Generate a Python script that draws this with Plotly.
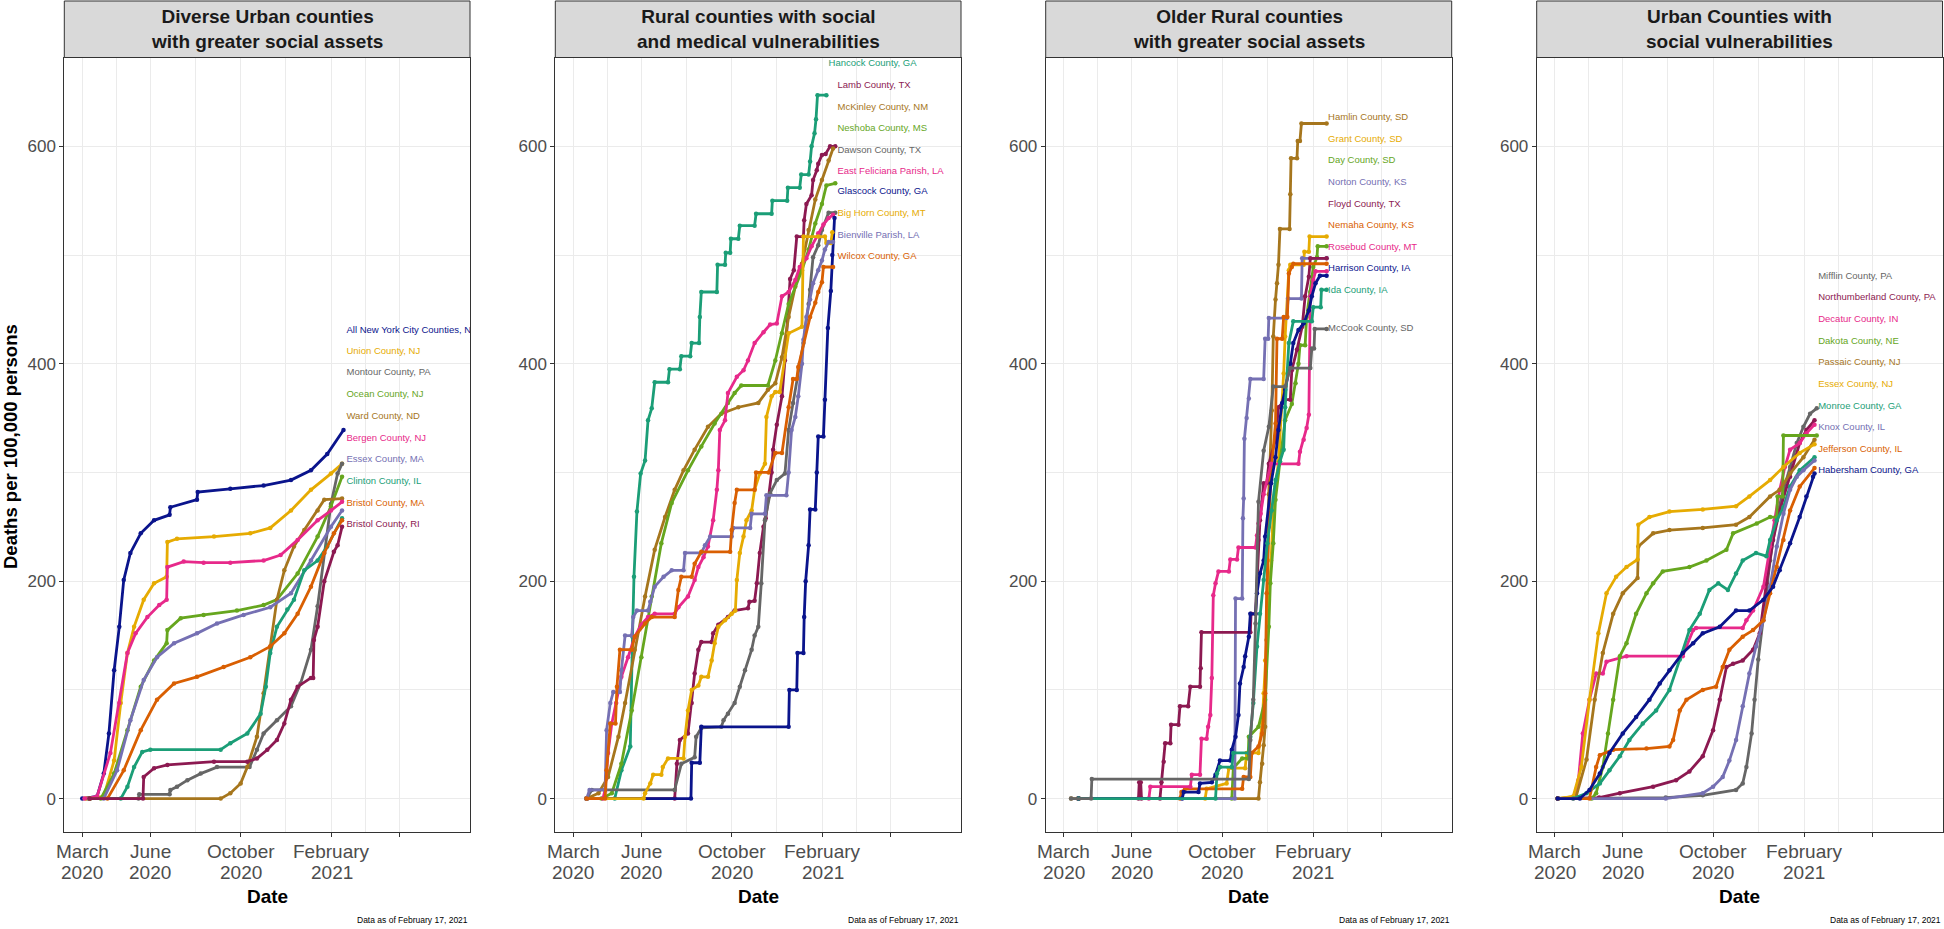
import pandas as pd
import plotly.graph_objects as go

START = pd.Timestamp("2020-03-01")

# ---------------- colours ----------------
NAVY = "#0A148C"
GOLD = "#E6AB02"
GREY = "#666666"
GREEN = "#66A61E"
BROWN = "#A6761D"
PINK = "#E7298A"
PURPLE = "#7570B3"
TEAL = "#1B9E77"
ORANGE = "#D95F02"
MAROON = "#8C1951"

# ---------------- panel titles ----------------
titles = [
    "Diverse Urban counties<br>with greater social assets",
    "Rural counties with social<br>and medical vulnerabilities",
    "Older Rural counties<br>with greater social assets",
    "Urban Counties with<br>social vulnerabilities",
]

# ---------------- x tick labels ----------------
tick_dates = ["2020-03-01", "2020-06-01", "2020-10-01", "2021-02-01", "2021-05-04"]
tick_month = ["March", "June", "October", "February", ""]
tick_year = ["2020", "2020", "2020", "2021", ""]
minor_dates = ["2020-04-16", "2020-08-01", "2020-12-01", "2021-03-19"]
y_ticks = [0, 200, 400, 600]
y_minor = [100, 300, 500]

# ================= Panel 1 data (days since 2020-03-01, deaths per 100k) =================
nyc_d = [0, 20, 29, 36, 43, 50, 56, 65, 79, 97, 118, 119, 155, 156, 200, 245, 282, 309, 331, 353]
nyc_v = [0, 2, 23, 60, 118, 158, 201, 226, 244, 256, 261, 268, 275, 282, 285, 288, 293, 302, 317, 339]
union_d = [5, 29, 43, 52, 61, 70, 83, 97, 114, 115, 128, 178, 227, 254, 282, 309, 336, 351]
union_v = [0, 2, 35, 88, 134, 158, 183, 198, 204, 236, 239, 241, 244, 249, 265, 284, 299, 308]
montour_d = [8, 76, 77, 118, 119, 128, 142, 160, 182, 226, 236, 245, 263, 282, 295, 309, 318, 327, 336, 345, 351]
montour_v = [0, 0, 4, 4, 8, 11, 17, 23, 29, 29, 45, 60, 72, 85, 106, 137, 177, 226, 271, 299, 308]
ocean_d = [10, 25, 43, 61, 79, 97, 114, 115, 133, 164, 209, 245, 263, 291, 318, 336, 351]
ocean_v = [0, 0, 23, 63, 103, 127, 143, 155, 166, 169, 173, 178, 183, 207, 241, 269, 296]
ward_d = [10, 187, 200, 214, 223, 236, 245, 254, 263, 273, 286, 300, 318, 327, 351]
ward_v = [0, 0, 5, 14, 29, 57, 97, 140, 183, 210, 232, 247, 265, 275, 276]
bergen_d = [3, 20, 38, 50, 61, 72, 88, 104, 114, 115, 137, 164, 200, 245, 268, 291, 318, 336, 351]
bergen_v = [0, 2, 42, 88, 134, 152, 167, 178, 183, 213, 218, 217, 217, 219, 224, 238, 256, 265, 273]
essexma_d = [10, 29, 47, 65, 83, 101, 124, 155, 182, 218, 254, 282, 309, 336, 351]
essexma_v = [0, 0, 26, 72, 109, 130, 143, 152, 161, 169, 176, 189, 219, 250, 265]
clinton_d = [10, 52, 61, 70, 81, 92, 187, 200, 223, 241, 248, 254, 263, 277, 286, 300, 318, 331, 351]
clinton_v = [0, 0, 11, 29, 43, 45, 45, 51, 60, 78, 103, 134, 158, 174, 183, 210, 219, 232, 258]
bristolma_d = [10, 34, 56, 79, 101, 124, 155, 191, 227, 254, 273, 291, 309, 327, 340, 351]
bristolma_v = [0, 0, 26, 63, 91, 106, 112, 121, 130, 140, 152, 170, 195, 226, 244, 256]
bristolri_d = [10, 82, 83, 97, 115, 178, 223, 236, 250, 263, 273, 282, 291, 309, 312, 313, 318, 327, 340, 345, 351]
bristolri_v = [0, 0, 20, 28, 31, 34, 34, 37, 45, 54, 69, 91, 103, 111, 111, 146, 158, 200, 227, 233, 250]

# ================= Panel 2 data =================
hancock_d = [18, 56, 65, 77, 80, 82, 86, 91, 97, 101, 106, 110, 128, 130, 144, 146, 158, 160, 170, 171, 173, 194, 195, 205, 206, 212, 213, 223, 225, 245, 247, 268, 269, 289, 290, 306, 308, 318, 320, 322, 326, 328, 330, 342]
hancock_v = [0, 0, 26, 48, 149, 204, 264, 299, 311, 348, 359, 383, 383, 395, 395, 407, 407, 419, 419, 443, 466, 466, 491, 491, 502, 502, 515, 515, 527, 527, 538, 538, 550, 550, 562, 562, 574, 574, 586, 600, 612, 625, 647, 647]
lamb_d = [18, 137, 140, 144, 155, 160, 164, 169, 173, 187, 189, 196, 209, 218, 236, 238, 245, 248, 252, 257, 260, 264, 268, 270, 275, 282, 286, 293, 298, 302, 311, 312, 315, 322, 324, 329, 331, 336, 341, 347, 354]
lamb_v = [0, 0, 32, 54, 60, 88, 115, 137, 144, 144, 152, 160, 167, 173, 175, 181, 182, 198, 226, 250, 258, 278, 300, 321, 344, 370, 403, 478, 486, 517, 517, 532, 547, 555, 569, 578, 584, 592, 593, 600, 600]
mckinley_d = [18, 34, 47, 61, 70, 83, 97, 110, 124, 137, 149, 164, 182, 200, 223, 250, 263, 273, 282, 291, 300, 309, 318, 327, 336, 345, 351]
mckinley_v = [0, 5, 20, 57, 88, 137, 186, 229, 259, 284, 302, 321, 342, 354, 360, 364, 376, 382, 406, 443, 471, 492, 523, 551, 569, 587, 598]
neshoba_d = [18, 38, 52, 65, 79, 92, 106, 119, 133, 155, 173, 191, 209, 218, 227, 263, 273, 282, 291, 309, 318, 327, 336, 342, 354]
neshoba_v = [0, 0, 5, 32, 81, 130, 186, 235, 272, 302, 324, 345, 364, 373, 380, 380, 403, 428, 455, 486, 505, 529, 547, 564, 566]
dawson_d = [18, 25, 137, 146, 164, 166, 173, 200, 203, 209, 218, 225, 232, 241, 245, 250, 254, 259, 266, 275, 286, 291, 297, 306, 311, 318, 320, 324, 331, 336, 345, 354]
dawson_v = [0, 8, 8, 32, 38, 57, 65, 66, 72, 78, 88, 103, 118, 137, 150, 158, 198, 256, 281, 293, 299, 339, 364, 400, 419, 455, 468, 498, 509, 523, 539, 539]
feliciana_d = [18, 40, 43, 47, 52, 58, 65, 74, 83, 92, 101, 110, 137, 142, 155, 164, 169, 176, 182, 189, 194, 196, 198, 205, 209, 221, 230, 236, 245, 257, 266, 275, 282, 291, 300, 306, 315, 322, 331, 338, 345, 351]
feliciana_v = [0, 0, 8, 42, 69, 88, 112, 130, 149, 160, 167, 170, 170, 176, 186, 201, 213, 222, 232, 256, 284, 302, 339, 348, 373, 388, 394, 403, 419, 429, 436, 437, 462, 466, 477, 489, 497, 508, 520, 528, 534, 537]
glascock_d = [18, 159, 160, 171, 173, 291, 292, 302, 303, 311, 312, 314, 318, 320, 327, 329, 331, 338, 340, 344, 348, 350, 353]
glascock_v = [0, 0, 33, 33, 66, 66, 100, 100, 134, 134, 167, 200, 233, 266, 266, 300, 333, 333, 367, 433, 467, 500, 534]
bighorn_d = [18, 95, 97, 104, 108, 119, 121, 128, 149, 151, 155, 160, 169, 173, 182, 187, 191, 196, 205, 214, 219, 221, 225, 230, 234, 241, 245, 252, 259, 261, 268, 273, 279, 291, 309, 311, 331, 340, 342, 348, 350]
bighorn_v = [0, 0, 5, 14, 22, 22, 29, 37, 37, 57, 81, 100, 104, 112, 112, 127, 143, 158, 164, 170, 173, 201, 226, 241, 256, 265, 284, 299, 308, 351, 370, 374, 374, 428, 434, 517, 517, 517, 511, 511, 521]
bienville_d = [18, 22, 43, 45, 50, 54, 63, 65, 70, 79, 81, 86, 101, 104, 110, 122, 133, 149, 151, 173, 178, 185, 214, 216, 239, 241, 259, 261, 288, 291, 295, 300, 304, 309, 311, 315, 320, 324, 331, 336, 340, 345, 351]
bienville_v = [0, 8, 8, 63, 88, 98, 98, 118, 150, 150, 167, 173, 173, 181, 195, 204, 210, 210, 226, 226, 233, 241, 241, 249, 249, 262, 262, 279, 279, 300, 339, 351, 370, 400, 422, 443, 459, 474, 486, 495, 505, 512, 512]
wilcox_d = [18, 43, 45, 50, 57, 59, 63, 79, 83, 97, 106, 137, 142, 146, 160, 164, 173, 212, 214, 218, 221, 245, 247, 264, 273, 282, 291, 297, 302, 304, 320, 327, 331, 336, 338, 351]
wilcox_v = [0, 0, 26, 69, 69, 103, 137, 137, 149, 161, 167, 167, 192, 204, 204, 216, 227, 227, 247, 272, 284, 284, 300, 300, 318, 318, 360, 386, 386, 397, 443, 456, 466, 475, 489, 489]

# ================= Panel 3 data =================
hamlin_d = [10, 263, 265, 268, 270, 272, 274, 277, 281, 283, 286, 288, 290, 292, 305, 306, 307, 315, 316, 319, 321, 355]
hamlin_v = [0, 0, 15, 32, 49, 66, 146, 280, 357, 425, 459, 474, 491, 524, 524, 556, 589, 589, 605, 605, 621, 621]
grant_d = [20, 191, 193, 220, 223, 245, 247, 263, 268, 270, 272, 277, 280, 283, 286, 290, 297, 299, 304, 306, 324, 325, 331, 332, 355]
grant_v = [0, 0, 9, 14, 28, 28, 42, 42, 69, 97, 127, 183, 219, 265, 287, 310, 391, 425, 486, 491, 491, 503, 503, 517, 517]
day_d = [20, 227, 229, 241, 249, 250, 263, 272, 277, 279, 283, 286, 292, 299, 308, 313, 317, 319, 326, 328, 333, 337, 342, 343, 355]
day_v = [0, 0, 28, 37, 37, 57, 66, 91, 158, 198, 235, 275, 310, 348, 363, 382, 400, 417, 417, 443, 466, 489, 498, 508, 508]
norton_d = [20, 231, 232, 241, 242, 243, 244, 247, 250, 252, 270, 272, 276, 277, 301, 303, 321, 322, 355]
norton_v = [0, 0, 184, 184, 258, 276, 331, 350, 368, 386, 386, 423, 423, 442, 442, 460, 460, 497, 497]
floyd_d = [20, 101, 102, 104, 105, 130, 132, 135, 137, 144, 145, 155, 157, 168, 171, 184, 185, 186, 252, 253, 259, 263, 265, 270, 274, 277, 286, 290, 299, 306, 308, 315, 322, 326, 331, 333, 355]
floyd_v = [0, 0, 15, 15, 0, 0, 15, 34, 51, 51, 68, 68, 85, 85, 103, 103, 120, 153, 153, 170, 170, 238, 256, 290, 290, 308, 330, 360, 367, 367, 394, 413, 434, 462, 480, 497, 497]
nemaha_d = [20, 157, 159, 164, 241, 243, 252, 254, 263, 268, 272, 274, 277, 280, 286, 288, 295, 297, 302, 304, 308, 310, 355]
nemaha_v = [0, 0, 6, 9, 9, 20, 20, 42, 48, 60, 97, 189, 250, 300, 345, 423, 423, 443, 443, 483, 489, 492, 492]
rosebud_d = [20, 115, 117, 171, 173, 184, 186, 193, 195, 198, 200, 202, 205, 209, 223, 225, 234, 236, 259, 261, 263, 266, 270, 280, 317, 319, 324, 328, 331, 333, 337, 340, 355]
rosebud_v = [0, 0, 11, 11, 22, 22, 55, 55, 66, 77, 111, 187, 198, 209, 209, 220, 220, 231, 231, 242, 253, 262, 280, 308, 308, 319, 330, 341, 353, 462, 477, 485, 485]
harrison_d = [20, 160, 162, 182, 184, 200, 205, 211, 225, 227, 232, 236, 238, 243, 245, 250, 252, 259, 261, 265, 270, 272, 280, 286, 290, 295, 299, 306, 310, 317, 324, 331, 335, 340, 346, 355]
harrison_v = [0, 0, 6, 6, 14, 15, 22, 35, 35, 45, 57, 77, 106, 121, 131, 149, 170, 170, 189, 207, 219, 241, 290, 314, 339, 364, 376, 400, 419, 431, 437, 449, 462, 474, 481, 481]
ida_d = [20, 205, 207, 211, 227, 229, 250, 252, 256, 261, 265, 270, 275, 281, 286, 292, 297, 299, 304, 310, 335, 337, 347, 348, 355]
ida_v = [0, 0, 23, 29, 29, 42, 42, 57, 88, 140, 170, 201, 235, 265, 293, 310, 321, 360, 419, 439, 439, 452, 452, 468, 468]
mccook_d = [10, 37, 38, 250, 252, 256, 259, 263, 270, 277, 283, 299, 306, 333, 335, 338, 339, 355]
mccook_v = [0, 0, 18, 18, 54, 91, 161, 273, 320, 342, 379, 379, 396, 396, 414, 414, 432, 432]

# ================= Panel 4 data =================
mifflin_d = [4, 150, 200, 245, 254, 259, 266, 270, 275, 282, 291, 300, 309, 318, 327, 336, 345, 354]
mifflin_v = [0, 1, 3, 8, 14, 29, 60, 91, 128, 167, 219, 259, 284, 305, 327, 342, 354, 359]
northum_d = [4, 60, 88, 133, 164, 182, 200, 214, 223, 232, 241, 254, 268, 277, 286, 295, 304, 318, 331, 340, 351]
northum_v = [0, 1, 5, 11, 17, 25, 39, 63, 91, 121, 124, 127, 137, 152, 198, 238, 265, 296, 327, 339, 348]
decatur_d = [4, 25, 32, 38, 47, 56, 65, 70, 97, 173, 178, 187, 191, 254, 259, 268, 282, 291, 297, 304, 311, 318, 331, 340, 351]
decatur_v = [0, 0, 17, 60, 91, 115, 115, 126, 131, 131, 140, 155, 157, 157, 164, 173, 195, 232, 256, 284, 305, 321, 327, 336, 344]
dakota_d = [4, 50, 56, 65, 72, 79, 88, 97, 110, 124, 133, 146, 182, 205, 232, 241, 273, 291, 300, 301, 308, 309, 354]
dakota_v = [0, 0, 5, 29, 60, 91, 131, 143, 170, 189, 198, 209, 213, 219, 229, 244, 253, 259, 259, 278, 278, 334, 334]
passaic_d = [4, 29, 43, 54, 65, 79, 92, 112, 113, 133, 155, 200, 245, 263, 291, 304, 318, 336, 351]
passaic_v = [0, 2, 36, 91, 134, 170, 189, 203, 232, 244, 247, 249, 252, 259, 278, 284, 299, 314, 330]
essexnj_d = [4, 25, 36, 47, 59, 70, 83, 97, 112, 113, 128, 155, 200, 245, 263, 291, 309, 331, 351]
essexnj_v = [0, 2, 29, 91, 152, 189, 204, 213, 220, 252, 259, 264, 266, 269, 278, 293, 305, 318, 326]
monroe_d = [4, 25, 43, 61, 74, 88, 101, 119, 137, 155, 169, 182, 196, 209, 221, 234, 245, 254, 272, 286, 291, 300, 309, 318, 331, 351]
monroe_v = [0, 0, 5, 14, 26, 39, 54, 69, 81, 100, 128, 155, 170, 192, 198, 192, 207, 219, 226, 223, 238, 256, 268, 287, 302, 314]
knox_d = [4, 150, 200, 214, 227, 236, 245, 254, 263, 272, 282, 291, 300, 309, 318, 327, 336, 351]
knox_v = [0, 0, 5, 11, 20, 35, 54, 85, 115, 140, 164, 195, 232, 262, 284, 296, 302, 311]
jefferson_d = [4, 47, 56, 61, 79, 124, 155, 160, 169, 178, 200, 218, 227, 236, 254, 268, 282, 291, 300, 309, 318, 331, 351]
jefferson_v = [0, 0, 29, 40, 45, 46, 48, 54, 81, 91, 100, 103, 121, 137, 149, 155, 164, 189, 213, 238, 265, 287, 304]
habersham_d = [4, 34, 47, 61, 74, 92, 110, 128, 142, 155, 173, 187, 200, 223, 245, 263, 282, 295, 304, 318, 331, 340, 349, 351]
habersham_v = [0, 0, 8, 23, 42, 60, 75, 91, 106, 118, 134, 143, 152, 158, 173, 173, 183, 195, 210, 235, 259, 278, 296, 299]

# ---------------- names / colours per panel ----------------
p1_names = ["All New York City Counties, NY", "Union County, NJ", "Montour County, PA", "Ocean County, NJ",
            "Ward County, ND", "Bergen County, NJ", "Essex County, MA", "Clinton County, IL",
            "Bristol County, MA", "Bristol County, RI"]
p1_colors = [NAVY, GOLD, GREY, GREEN, BROWN, PINK, PURPLE, TEAL, ORANGE, MAROON]
p1_series = [(nyc_d, nyc_v), (union_d, union_v), (montour_d, montour_v), (ocean_d, ocean_v),
             (ward_d, ward_v), (bergen_d, bergen_v), (essexma_d, essexma_v), (clinton_d, clinton_v),
             (bristolma_d, bristolma_v), (bristolri_d, bristolri_v)]
p1_label_y = [430.8, 411.2, 391.6, 371.4, 351.2, 331.0, 311.4, 291.9, 271.6, 252.0]
p1_label_d = [357] * 10

p2_names = ["Hancock County, GA", "Lamb County, TX", "McKinley County, NM", "Neshoba County, MS",
            "Dawson County, TX", "East Feliciana Parish, LA", "Glascock County, GA", "Big Horn County, MT",
            "Bienville Parish, LA", "Wilcox County, GA"]
p2_colors = [TEAL, MAROON, BROWN, GREEN, GREY, PINK, NAVY, GOLD, PURPLE, ORANGE]
p2_series = [(hancock_d, hancock_v), (lamb_d, lamb_v), (mckinley_d, mckinley_v), (neshoba_d, neshoba_v),
             (dawson_d, dawson_v), (feliciana_d, feliciana_v), (glascock_d, glascock_v), (bighorn_d, bighorn_v),
             (bienville_d, bienville_v), (wilcox_d, wilcox_v)]
p2_label_y = [676.2, 656.0, 635.9, 616.2, 596.1, 576.5, 558.0, 537.7, 517.6, 498.6]
p2_label_d = [345] + [357] * 9

p3_names = ["Hamlin County, SD", "Grant County, SD", "Day County, SD", "Norton County, KS",
            "Floyd County, TX", "Nemaha County, KS", "Rosebud County, MT", "Harrison County, IA",
            "Ida County, IA", "McCook County, SD"]
p3_colors = [BROWN, GOLD, GREEN, PURPLE, MAROON, ORANGE, PINK, NAVY, TEAL, GREY]
p3_series = [(hamlin_d, hamlin_v), (grant_d, grant_v), (day_d, day_v), (norton_d, norton_v),
             (floyd_d, floyd_v), (nemaha_d, nemaha_v), (rosebud_d, rosebud_v), (harrison_d, harrison_v),
             (ida_d, ida_v), (mccook_d, mccook_v)]
p3_label_y = [626.7, 606.5, 586.9, 566.7, 546.6, 526.9, 506.8, 487.1, 467.5, 432.1]
p3_label_d = [357] * 10

p4_names = ["Mifflin County, PA", "Northumberland County, PA", "Decatur County, IN", "Dakota County, NE",
            "Passaic County, NJ", "Essex County, NJ", "Monroe County, GA", "Knox County, IL",
            "Jefferson County, IL", "Habersham County, GA"]
p4_colors = [GREY, MAROON, PINK, GREEN, BROWN, GOLD, TEAL, PURPLE, ORANGE, NAVY]
p4_series = [(mifflin_d, mifflin_v), (northum_d, northum_v), (decatur_d, decatur_v), (dakota_d, dakota_v),
             (passaic_d, passaic_v), (essexnj_d, essexnj_v), (monroe_d, monroe_v), (knox_d, knox_v),
             (jefferson_d, jefferson_v), (habersham_d, habersham_v)]
p4_label_y = [480.0, 460.4, 440.3, 420.7, 401.0, 380.9, 360.7, 341.1, 320.9, 301.3]
p4_label_d = [356] * 10

panels = [
    (p1_names, p1_colors, p1_series, p1_label_y, p1_label_d),
    (p2_names, p2_colors, p2_series, p2_label_y, p2_label_d),
    (p3_names, p3_colors, p3_series, p3_label_y, p3_label_d),
    (p4_names, p4_colors, p4_series, p4_label_y, p4_label_d),
]

# ---------------- layout geometry ----------------
W, H = 1944, 929
FONT = "Liberation Sans, Arial, Helvetica, sans-serif"
panel_px = [(64.3, 470.0), (555.3, 961.0), (1045.7, 1451.7), (1536.7, 1942.5)]
plot_top_px, plot_bot_px, strip_top_px = 57.5, 832.0, 1.0
y_dom = [1 - plot_bot_px / H, 1 - plot_top_px / H]
x_range = [START + pd.Timedelta(days=-24.3), START + pd.Timedelta(days=523.9)]
y_range = [-30.7, 681.7]


def to_dates(days):
    return [START + pd.Timedelta(days=int(d)) for d in days]


fig = go.Figure()
layout = dict(
    width=W, height=H, margin=dict(l=0, r=0, t=0, b=0),
    paper_bgcolor="white", plot_bgcolor="white", showlegend=False,
    font=dict(family=FONT, color="#1A1A1A"),
)
shapes = []
annotations = []

for i, (names, colors, series, label_y, label_d) in enumerate(panels):
    k = i + 1
    xa = "x" if k == 1 else f"x{k}"
    ya = "y" if k == 1 else f"y{k}"
    for name, col, (dd, vv) in zip(names, colors, series):
        fig.add_trace(go.Scatter(
            x=to_dates(dd), y=vv, mode="lines+markers", name=name,
            line=dict(color=col, width=2.8), marker=dict(color=col, size=4.5),
            xaxis=xa, yaxis=ya, hoverinfo="name+y",
        ))
    fig.add_trace(go.Scatter(
        x=to_dates(label_d), y=label_y, mode="text", text=names,
        textposition="middle right", cliponaxis=True,
        textfont=dict(family=FONT, size=9.5, color=colors),
        xaxis=xa, yaxis=ya, hoverinfo="skip",
    ))
    x0, x1 = panel_px[i]
    dom = [x0 / W, x1 / W]
    layout[f"xaxis{'' if k == 1 else k}"] = dict(
        domain=dom, anchor=ya, type="date", range=x_range, automargin=False,
        tickmode="array", tickvals=tick_dates, showticklabels=False,
        ticks="outside", ticklen=4, tickcolor="#333333",
        showgrid=True, gridcolor="#EBEBEB", gridwidth=1.2,
        minor=dict(tickvals=minor_dates, showgrid=True, gridcolor="#EBEBEB", gridwidth=0.6, ticks=""),
        showline=True, mirror=True, linecolor="#333333", linewidth=1, zeroline=False,
    )
    layout[f"yaxis{'' if k == 1 else k}"] = dict(
        domain=y_dom, anchor=xa, range=y_range, automargin=False,
        tickmode="array", tickvals=y_ticks, ticktext=[str(t) for t in y_ticks],
        tickfont=dict(family=FONT, size=17, color="#4D4D4D"),
        ticks="outside", ticklen=4, tickcolor="#333333",
        showgrid=True, gridcolor="#EBEBEB", gridwidth=1.2,
        minor=dict(tickvals=y_minor, showgrid=True, gridcolor="#EBEBEB", gridwidth=0.6, ticks=""),
        showline=True, mirror=True, linecolor="#333333", linewidth=1, zeroline=False,
    )
    # x tick labels (two lines each)
    for td, m, yr in zip(tick_dates, tick_month, tick_year):
        if not m:
            continue
        for txt, ypx in ((m, 851), (yr, 872)):
            annotations.append(dict(xref=xa, yref="paper", x=td, y=1 - ypx / H, text=txt,
                                    showarrow=False, xanchor="center", yanchor="middle",
                                    font=dict(family=FONT, size=19, color="#4D4D4D")))
    # strip
    shapes.append(dict(type="rect", xref="paper", yref="paper",
                       x0=dom[0], x1=dom[1], y0=1 - plot_top_px / H, y1=1 - strip_top_px / H,
                       fillcolor="#D9D9D9", line=dict(color="#333333", width=1), layer="above"))
    cx = (dom[0] + dom[1]) / 2
    annotations.append(dict(xref="paper", yref="paper", x=cx, y=1 - 29.5 / H,
                            text=f"<b>{titles[i]}</b>", showarrow=False, xanchor="center", yanchor="middle",
                            font=dict(family=FONT, size=19, color="#1A1A1A")))
    annotations.append(dict(xref="paper", yref="paper", x=cx, y=1 - 896 / H,
                            text="<b>Date</b>", showarrow=False, xanchor="center", yanchor="middle",
                            font=dict(family=FONT, size=19, color="black")))
    annotations.append(dict(xref="paper", yref="paper", x=dom[1], y=1 - 920 / H,
                            text="Data as of February 17, 2021", showarrow=False, xanchor="right",
                            yanchor="middle", font=dict(family=FONT, size=8.5, color="black")))

annotations.append(dict(xref="paper", yref="paper", x=10 / W, y=1 - 447 / H,
                        text="<b>Deaths per 100,000 persons</b>", showarrow=False, textangle=-90,
                        xanchor="center", yanchor="middle",
                        font=dict(family=FONT, size=18.5, color="black")))

layout["shapes"] = shapes
layout["annotations"] = annotations
fig.update_layout(**layout)
fig.write_html("out.html", config={"displayModeBar": False},
               post_script="document.body.style.margin='0px';document.body.style.overflow='hidden';")
